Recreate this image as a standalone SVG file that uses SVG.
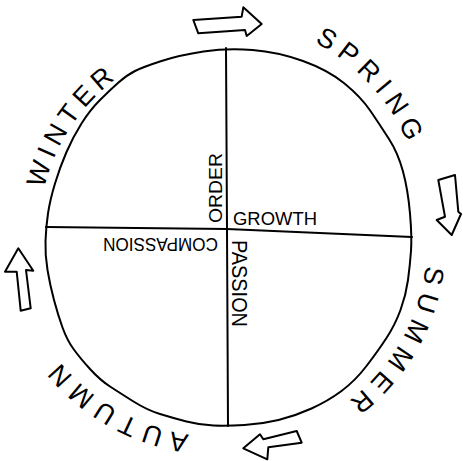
<svg xmlns="http://www.w3.org/2000/svg" width="463" height="461" viewBox="0 0 463 461">
<style>
.ln{fill:none;stroke:#000;stroke-width:2;stroke-linecap:round;stroke-linejoin:round}
.ar{fill:#fff;stroke:#000;stroke-width:2;stroke-linejoin:round}
.big{font-family:"Liberation Sans",Arial,sans-serif;font-size:27px;fill:#000}
.sm{font-family:"Liberation Sans",Arial,sans-serif;fill:#000}
</style>
<defs>
<path id="pW" d="M44.1,188.6 A195,195 0 0 1 115.3,79.4"/>
<path id="pS" d="M314.5,42.1 A205,205 0 0 1 407.6,142.8"/>
<path id="pU" d="M425.8,265.4 A200,200 0 0 1 348.7,400.9"/>
<path id="pA" d="M189.1,434.5 A205,205 0 0 1 60.1,361.7"/>
</defs>
<rect width="463" height="461" fill="#fff"/>
<g id="wheel">
<path class="ln" d="M252.5,50 Q278,52 303,61 Q328,70 344.5,83.5 Q361,97 370.5,111 Q380,125 389,139 Q398,153 403,171.5 Q408,190 410,213.5 Q412,237 411,251 Q410,265 408,280 Q406,295 400.5,310 Q395,325 386.5,338 Q378,351 366.5,366 Q355,381 341.5,391 Q328,401 311.5,408.5 Q295,416 278.5,420 Q262,424 244.5,425 Q227,426 213.5,425.5 Q200,425 186.5,421.5 Q173,418 160,414 Q147,410 133.5,401.5 Q120,393 110,386.5 Q100,380 90,369 Q80,358 73.5,349 Q67,340 62.5,327.5 Q58,315 54,300 Q50,285 47.5,270 Q45,255 45.5,241 Q46,227 48,213.5 Q50,200 55,183.5 Q60,167 66.5,152 Q73,137 81.5,123.5 Q90,110 100,100 Q110,90 118.5,82.5 Q127,75 135,71 Q143,67 161.5,61 Q180,55 203.5,51.5 Q227,48 252.5,50 Z"/>
</g>
<g id="connectors">
<path class="ln" d="M226,48 L227,230 L228,426"/>
<path class="ln" d="M46,227 L227,229 L412,237"/>
</g>
<g id="seasons">
<text class="big"><textPath href="#pW" textLength="133">WINTER</textPath></text>
<text class="big"><textPath href="#pS" textLength="139">SPRING</textPath></text>
<text class="big"><textPath href="#pU" textLength="160">SUMMER</textPath></text>
<text class="big"><textPath href="#pA" textLength="151">AUTUMN</textPath></text>
</g>
<g id="qualities">
<g id="order"><text class="sm" font-size="19" transform="translate(222,223) rotate(-90)" textLength="70" lengthAdjust="spacingAndGlyphs">ORDER</text></g>
<g id="growth"><text class="sm" font-size="18" x="233" y="225" textLength="84" lengthAdjust="spacingAndGlyphs">GROWTH</text></g>
<g id="compassion"><text class="sm" font-size="18" transform="translate(218,238) rotate(180)" textLength="115" lengthAdjust="spacingAndGlyphs">COMPASSION</text></g>
<g id="passion"><text class="sm" font-size="22" transform="translate(232,240) rotate(90)" textLength="87" lengthAdjust="spacingAndGlyphs">PASSION</text></g>
</g>
<g id="arrows">
<path class="ar" d="M193.3,20 L241.7,16.7 L243.3,7.3 L261.7,24 L246.7,36 L245,30 L198.3,33.3 Z"/>
<path class="ar" d="M438.3,180 L455,175 L458.3,211.7 L461,214 L451.7,235 L436.7,220 L445,216.7 Z"/>
<path class="ar" d="M296.7,431 L301.7,442.7 L268.3,447.3 L267.3,459.3 L243.3,448.3 L260,434.3 L263.3,439.3 Z"/>
<path class="ar" d="M18.3,248.3 L33.3,270.7 L26,270 L30.7,308.3 L20.7,310.7 L16.7,271.7 L5,271.7 Z"/>
</g>
</svg>
